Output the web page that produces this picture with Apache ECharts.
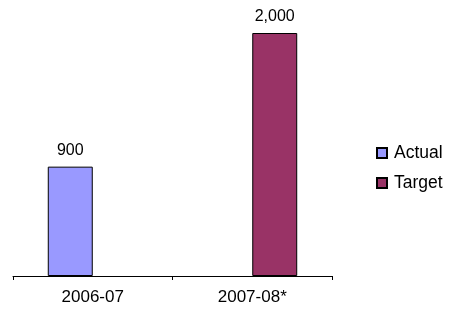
<!DOCTYPE html>
<html><head><meta charset="utf-8">
<script src="https://cdn.jsdelivr.net/npm/echarts@6/dist/echarts.min.js"></script>
<style>html,body{margin:0;padding:0;background:#fff}#c{width:457px;height:313px}</style>
</head><body><div id="c"></div>
<script>
var categories = ['2006-07', '2007-08*'];
var actualValues = [900, null];
var targetValues = [null, 2000];
var seriesNames = ['Actual', 'Target'];

var chart = echarts.init(document.getElementById('c'));
var font = 'Arial, "Liberation Sans", sans-serif';
function fmt(p) { return p.value == null ? '' : Number(p.value).toLocaleString('en-US'); }
chart.setOption({
  animation: false,
  textStyle: { fontFamily: font },
  grid: { left: 13, right: 125, top: 33, bottom: 37, containLabel: false },
  legend: {
    orient: 'vertical', left: 376, top: 144, padding: 0,
    itemWidth: 10, itemHeight: 10, itemGap: 12,
    icon: 'rect',
    textStyle: { fontFamily: font, fontSize: 17.5, color: '#000', padding: [0, 0, 0, 2] },
    data: seriesNames
  },
  xAxis: {
    type: 'category', data: categories,
    axisLine: { lineStyle: { color: '#000', width: 1 } },
    axisTick: { show: true, length: 4, lineStyle: { color: '#000' } },
    axisLabel: { fontFamily: font, fontSize: 17, color: '#000', margin: 13 }
  },
  yAxis: {
    type: 'value', min: 0, max: 2000, show: false,
    splitLine: { show: false }
  },
  series: [
    { name: seriesNames[0], type: 'bar', data: actualValues, barGap: '0%', barCategoryGap: '43.6%',
      itemStyle: { color: '#9999FF', borderColor: '#000', borderWidth: 1 },
      label: { show: true, position: 'top', distance: 8, fontFamily: font, fontSize: 16, color: '#000', formatter: fmt } },
    { name: seriesNames[1], type: 'bar', data: targetValues, barGap: '0%', barCategoryGap: '43.6%',
      itemStyle: { color: '#993366', borderColor: '#000', borderWidth: 1 },
      label: { show: true, position: 'top', distance: 8, fontFamily: font, fontSize: 16, color: '#000', formatter: fmt } }
  ]
});
</script></body></html>
